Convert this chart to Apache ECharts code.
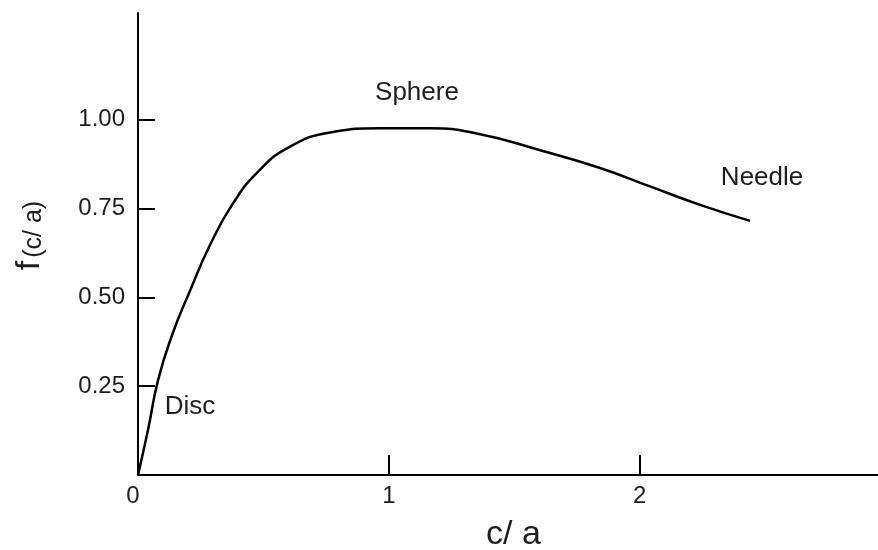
<!DOCTYPE html>
<html>
<head>
<meta charset="utf-8">
<script src="https://cdn.jsdelivr.net/npm/echarts@6/dist/echarts.min.js"></script>
<style>
  html, body { margin: 0; padding: 0; background: #fff; }
  #chart { width: 878px; height: 550px; }
</style>
</head>
<body>
<div id="chart"></div>
<script>
// Shape factor f(c/a) against axial ratio c/a
const cVals = [0, 0.040, 0.080, 0.136, 0.207, 0.287, 0.375, 0.478, 0.606, 0.766, 0.965, 1.164, 1.364, 1.603, 1.842, 2.041, 2.241, 2.440];
const fVals = [0, 0.127, 0.267, 0.394, 0.518, 0.647, 0.760, 0.853, 0.924, 0.964, 0.976, 0.976, 0.959, 0.914, 0.864, 0.812, 0.760, 0.715];

const xTicks = [0, 1, 2];
const xTickLabels = ['0', '1', '2'];
const yTicks = [0.25, 0.5, 0.75, 1.0];
const yTickLabels = ['0.25', '0.50', '0.75', '1.00'];

// Shape names, each tied to a point of the curve
const shapeNames = ['Disc', 'Sphere', 'Needle'];
const shapeIndex = [2, 11, 17];

const FONT = '"Liberation Sans", Arial, sans-serif';
const INK = '#1e1e1e';

const labelOffsets = { Disc: [32, 27], Sphere: [-13, -35], Needle: [12, -43] };

const chart = echarts.init(document.getElementById('chart'), null, { renderer: 'canvas' });

chart.setOption({
  animation: false,
  backgroundColor: '#fff',
  grid: { left: 138, right: 0, top: 13, bottom: 75, containLabel: false, outerBoundsMode: 'none' },
  xAxis: {
    type: 'value',
    min: 0,
    max: 2.95,
    interval: 1,
    name: 'c/ a',
    nameLocation: 'middle',
    nameGap: 43,
    nameTextStyle: { fontFamily: FONT, fontSize: 34, color: INK, padding: [0, 0, 0, 11] },
    axisLine: { lineStyle: { color: '#000', width: 2 } },
    axisTick: { show: true, inside: true, length: 20, customValues: [1, 2], lineStyle: { color: '#000', width: 2 } },
    axisLabel: {
      customValues: xTicks,
      margin: 9,
      fontFamily: FONT,
      fontSize: 24,
      color: INK,
      formatter: function (v) {
        const s = xTickLabels[xTicks.indexOf(v)];
        return v === 0 ? '{z|' + s + '}' : s;
      },
      rich: { z: { fontFamily: FONT, fontSize: 24, color: INK, padding: [0, 10, 0, 0] } }
    },
    splitLine: { show: false }
  },
  yAxis: {
    type: 'value',
    min: 0,
    max: 1.3,
    interval: 0.25,
    name: '{f|f}{s|(c/ a)}',
    nameLocation: 'middle',
    nameGap: 91,
    nameTextStyle: {
      padding: [0, 0, 0, 17],
      rich: {
        f: { fontFamily: FONT, fontSize: 34, color: INK, verticalAlign: 'bottom', padding: [0, 3, 0, 0] },
        s: { fontFamily: FONT, fontSize: 25, color: INK, verticalAlign: 'bottom' }
      }
    },
    axisLine: { lineStyle: { color: '#000', width: 2 } },
    axisTick: { show: true, inside: true, length: 17, customValues: yTicks, lineStyle: { color: '#000', width: 2 } },
    axisLabel: {
      customValues: yTicks,
      margin: 13,
      fontFamily: FONT,
      fontSize: 24,
      color: INK,
      formatter: function (v) { return yTickLabels[yTicks.indexOf(v)]; }
    },
    splitLine: { show: false }
  },
  series: [{
    type: 'line',
    data: cVals.map((c, i) => [c, fVals[i]]),
    smooth: 0.5,
    showSymbol: false,
    lineStyle: { color: '#000', width: 2.5 },
    markPoint: {
      symbol: 'circle',
      symbolSize: 1,
      itemStyle: { color: 'rgba(0,0,0,0)' },
      label: { show: true, position: 'inside', fontFamily: FONT, fontSize: 26, color: INK },
      data: shapeNames.map((name, k) => ({
        name: name,
        coord: [cVals[shapeIndex[k]], fVals[shapeIndex[k]]],
        label: { formatter: name, offset: labelOffsets[name] }
      }))
    }
  }]
});
</script>
</body>
</html>
